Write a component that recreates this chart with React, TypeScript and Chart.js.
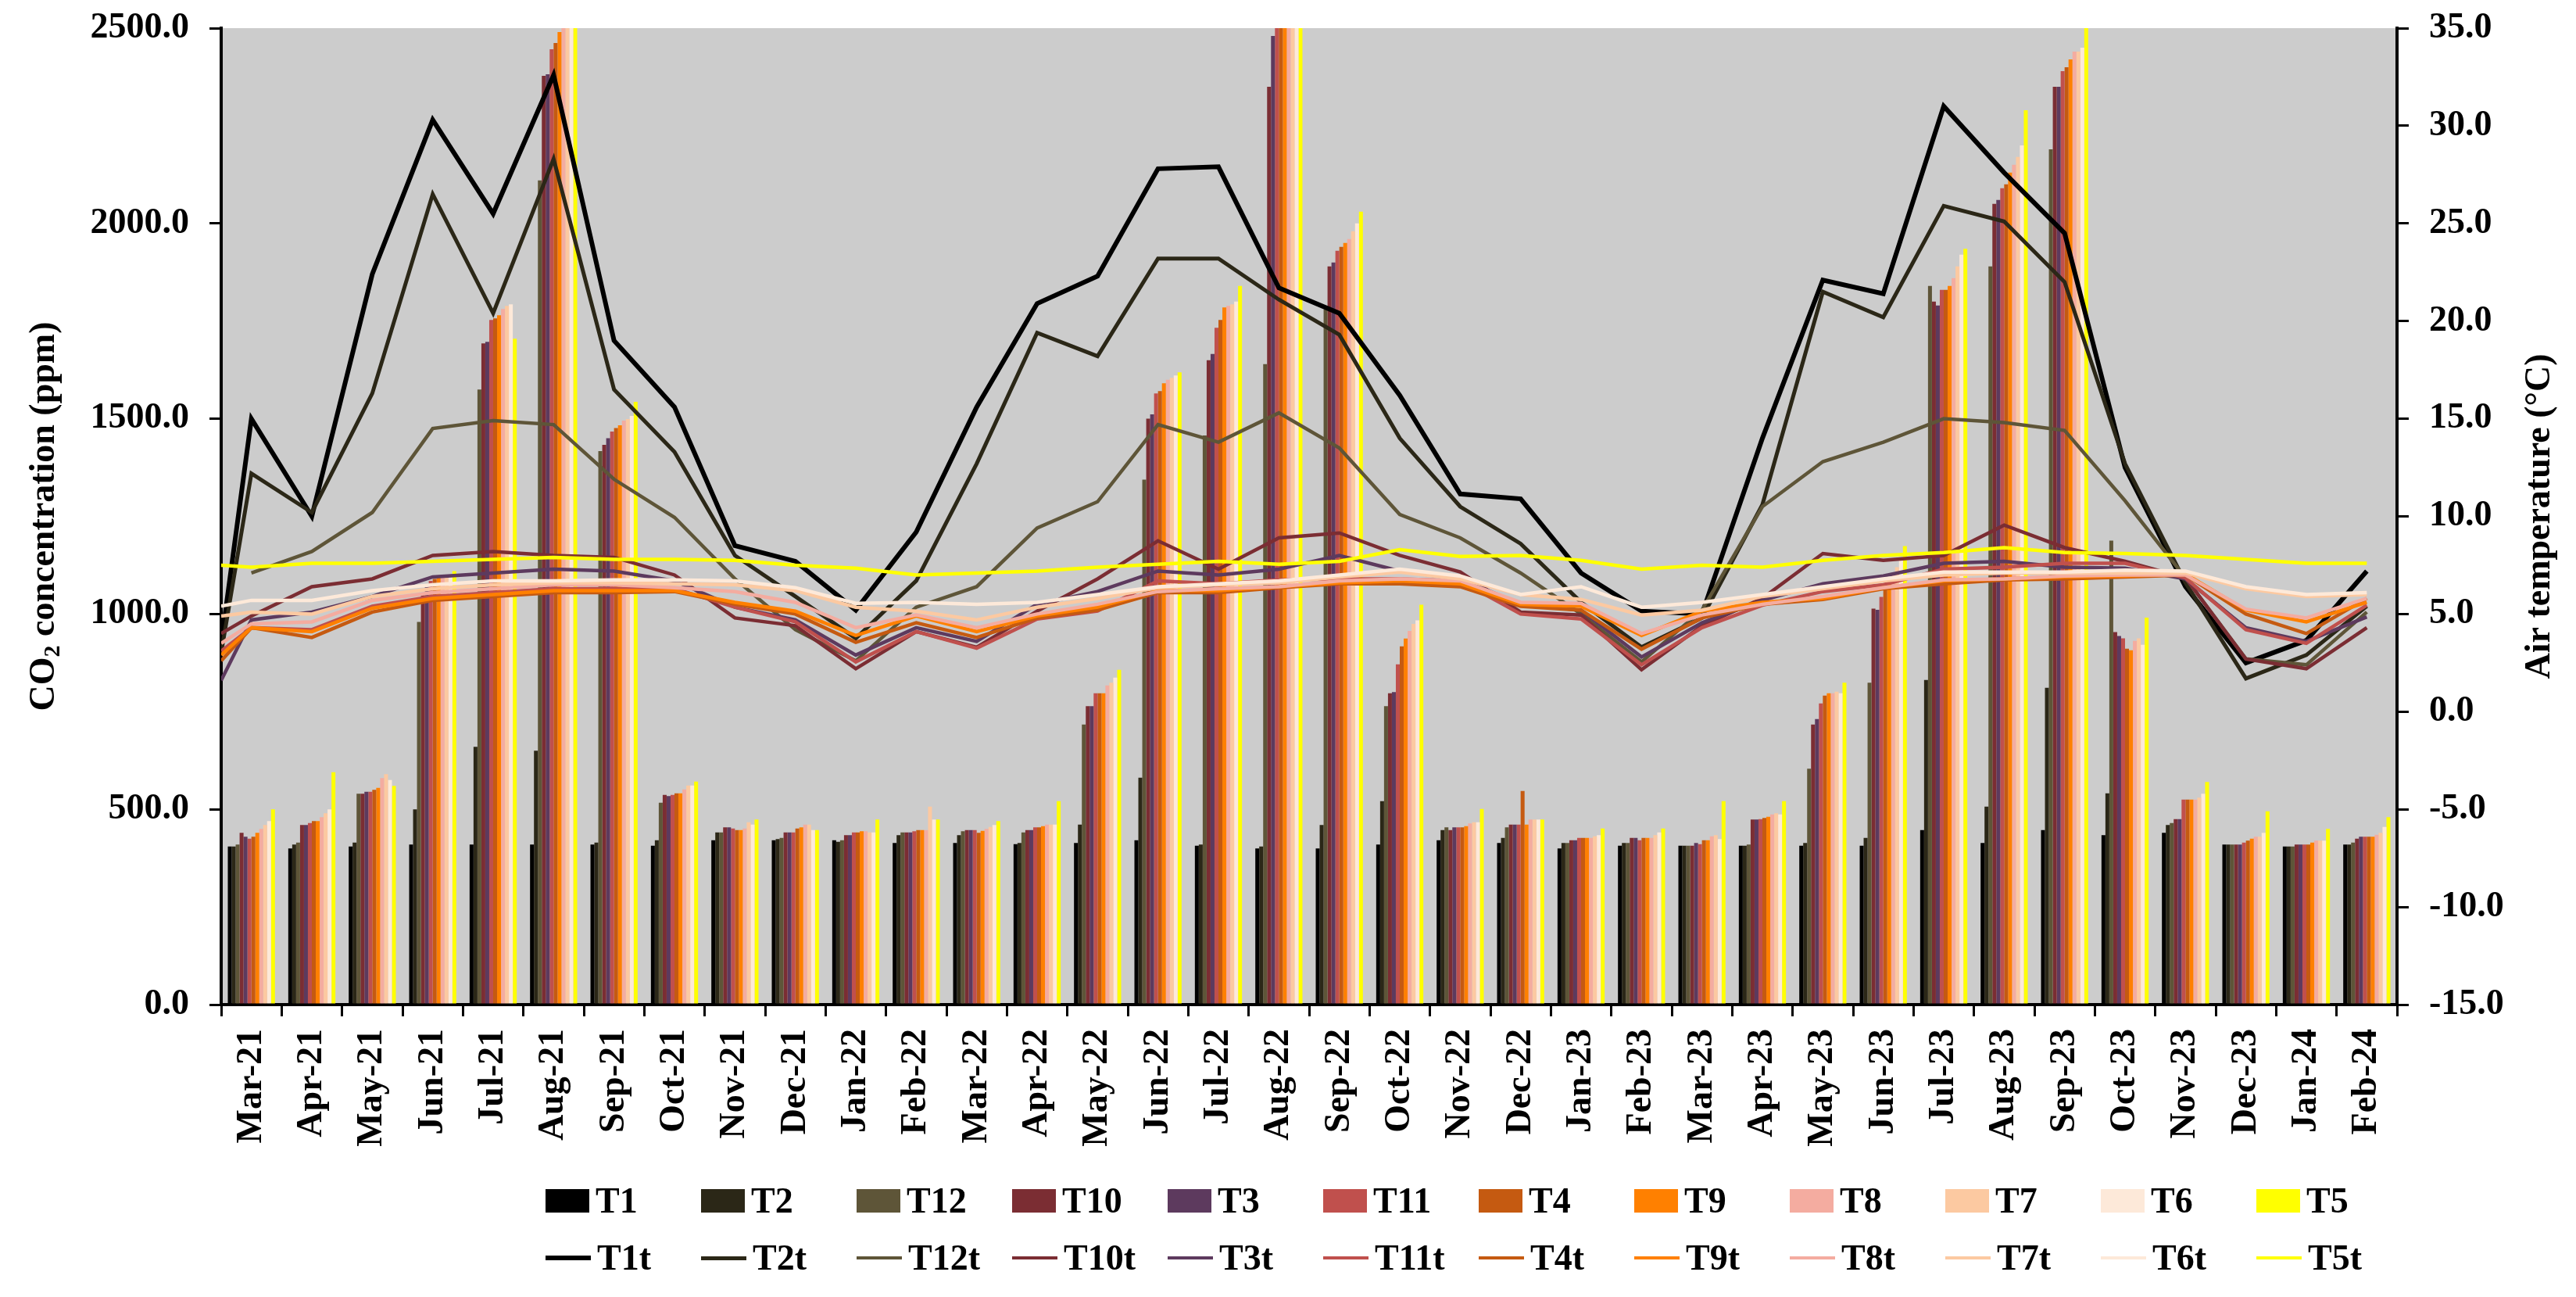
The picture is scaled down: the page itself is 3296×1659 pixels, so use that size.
import React, { useEffect, useRef } from "react";
import { Chart, registerables } from "chart.js";

Chart.register(...registerables);

const FONT = '"Liberation Serif", "Times New Roman", serif';

const months = [
  "Mar-21", "Apr-21", "May-21", "Jun-21", "Jul-21", "Aug-21", "Sep-21", "Oct-21", "Nov-21", "Dec-21",
  "Jan-22", "Feb-22", "Mar-22", "Apr-22", "May-22", "Jun-22", "Jul-22", "Aug-22", "Sep-22", "Oct-22",
  "Nov-22", "Dec-22", "Jan-23", "Feb-23", "Mar-23", "Apr-23", "May-23", "Jun-23", "Jul-23", "Aug-23",
  "Sep-23", "Oct-23", "Nov-23", "Dec-23", "Jan-24", "Feb-24",
];

const barNames = ["T1", "T2", "T12", "T10", "T3", "T11", "T4", "T9", "T8", "T7", "T6", "T5"];
const lineNames = ["T1t", "T2t", "T12t", "T10t", "T3t", "T11t", "T4t", "T9t", "T8t", "T7t", "T6t", "T5t"];
const seriesColors = [
  "#000000", "#2b2717", "#5e5538", "#7b2d33", "#5d3a5e", "#c0504d",
  "#c55a11", "#ff8000", "#f4aca0", "#fcc9a1", "#fde9d9", "#ffff00",
];
const lineWidths = [6, 5, 4.5, 4.5, 4.5, 4.5, 4.5, 4.5, 4.5, 4.5, 4.5, 4.5];

// CO2 concentration (ppm), bars
const T1 = [405, 400, 405, 410, 410, 410, 410, 407, 421, 421, 421, 414, 414, 411, 414, 421, 407, 400, 400, 410, 421, 414, 400, 407, 407, 407, 407, 407, 447, 414, 447, 434, 440, 410, 405, 410];
const T2 = [405, 410, 415, 500, 660, 650, 415, 421, 441, 424, 417, 434, 434, 414, 461, 581, 410, 405, 460, 521, 447, 427, 414, 414, 407, 407, 414, 427, 831, 507, 811, 541, 460, 410, 405, 410];
const T12 = [410, 415, 540, 980, 1575, 2110, 1417, 517, 441, 427, 421, 441, 444, 441, 717, 1344, 1457, 1640, 1780, 764, 454, 454, 414, 414, 407, 410, 604, 824, 1840, 1890, 2190, 1188, 465, 410, 405, 415];
const T10 = [440, 460, 540, 1050, 1693, 2378, 1433, 537, 454, 441, 434, 441, 447, 447, 764, 1500, 1650, 2350, 1890, 797, 447, 461, 421, 427, 407, 474, 717, 1014, 1800, 2050, 2350, 954, 475, 410, 410, 425];
const T3 = [430, 460, 545, 1075, 1697, 2382, 1450, 534, 454, 441, 434, 441, 447, 447, 764, 1511, 1666, 2480, 1900, 800, 454, 461, 421, 427, 414, 474, 731, 1011, 1790, 2060, 2350, 944, 475, 410, 410, 430];
const T11 = [425, 465, 545, 1085, 1753, 2446, 1467, 537, 451, 441, 441, 444, 447, 454, 797, 1565, 1733, 2520, 1930, 871, 454, 461, 427, 421, 411, 475, 771, 1044, 1830, 2090, 2390, 938, 525, 415, 410, 430];
const T4 = [430, 470, 550, 1090, 1757, 2462, 1476, 541, 447, 451, 441, 447, 440, 454, 797, 1571, 1753, 2530, 1940, 917, 454, 547, 427, 427, 421, 478, 791, 1070, 1830, 2100, 2400, 911, 525, 420, 410, 430];
const T9 = [440, 470, 555, 1095, 1765, 2490, 1483, 541, 447, 454, 444, 447, 445, 457, 797, 1591, 1785, 2540, 1950, 937, 457, 461, 427, 427, 421, 481, 797, 1085, 1840, 2130, 2420, 907, 525, 425, 415, 430];
const T8 = [450, 480, 580, 1100, 1781, 2520, 1495, 551, 451, 461, 444, 447, 450, 461, 817, 1600, 1789, 2550, 1960, 957, 464, 474, 427, 427, 431, 487, 797, 1100, 1860, 2150, 2440, 931, 525, 430, 420, 435];
const T7 = [460, 490, 590, 1100, 1789, 2540, 1499, 561, 467, 461, 441, 507, 455, 461, 824, 1605, 1793, 2560, 1980, 975, 467, 474, 431, 434, 434, 490, 801, 1120, 1890, 2170, 2440, 938, 530, 430, 420, 440];
const T6 = [470, 500, 575, 1100, 1793, 2550, 1507, 561, 461, 447, 441, 474, 460, 461, 837, 1611, 1800, 2570, 2000, 984, 467, 474, 434, 441, 424, 487, 797, 1140, 1920, 2200, 2450, 921, 540, 440, 420, 455];
const T5 = [500, 595, 560, 1110, 1705, 2560, 1543, 571, 474, 447, 474, 474, 470, 521, 857, 1619, 1840, 2580, 2030, 1024, 501, 474, 451, 451, 521, 521, 824, 1174, 1935, 2290, 2510, 991, 570, 495, 450, 480];
const barSeries = [T1, T2, T12, T10, T3, T11, T4, T9, T8, T7, T6, T5];

// Air temperature (°C), lines
const T1t = [15.0, 10.0, 22.4, 30.3, 25.5, 32.6, 19.0, 15.6, 8.5, 7.7, 5.2, 9.2, 15.6, 20.9, 22.3, 27.8, 27.9, 21.7, 20.4, 16.2, 11.15, 10.9, 7.1, 5.15, 5.0, 14.0, 22.1, 21.4, 31.0, 27.6, 24.5, 12.5, 6.4, 2.5, 3.65, 7.2];
const T2t = [12.2, 10.2, 16.3, 26.5, 20.4, 28.3, 16.5, 13.3, 8.0, 5.9, 3.75, 6.7, 12.7, 19.4, 18.2, 23.2, 23.2, 21.1, 19.3, 14.0, 10.5, 8.6, 5.6, 3.3, 4.8, 10.6, 21.5, 20.2, 25.9, 25.1, 22.0, 12.7, 6.6, 1.7, 2.9, 5.4];
const T12t = [7.1, 8.2, 10.2, 14.5, 14.9, 14.7, 11.9, 9.95, 6.8, 4.2, 2.6, 5.35, 6.4, 9.4, 10.75, 14.7, 13.8, 15.3, 13.5, 10.1, 8.9, 7.1, 5.0, 2.55, 5.2, 10.5, 12.8, 13.8, 15.0, 14.8, 14.4, 10.8, 6.85, 2.7, 2.4, 5.1];
const T10t = [4.9, 6.4, 6.8, 8.0, 8.2, 8.0, 7.9, 7.0, 4.8, 4.4, 2.2, 4.1, 3.3, 5.15, 6.8, 8.75, 7.3, 8.9, 9.15, 8.0, 7.15, 5.1, 4.95, 2.15, 4.4, 5.8, 8.1, 7.75, 8.0, 9.55, 8.4, 7.7, 6.85, 2.7, 2.2, 4.3];
const T3t = [4.7, 5.1, 5.9, 6.9, 7.1, 7.3, 7.2, 6.7, 5.35, 4.7, 2.9, 4.3, 3.6, 5.5, 6.15, 7.2, 7.0, 7.3, 8.0, 7.2, 6.8, 5.5, 5.2, 2.8, 4.55, 5.7, 6.55, 6.95, 7.6, 7.7, 7.4, 7.35, 6.8, 4.3, 3.6, 4.85];
const T11t = [4.3, 4.2, 5.4, 5.9, 6.1, 6.3, 6.3, 6.3, 5.35, 4.6, 2.55, 4.1, 3.25, 4.75, 5.15, 6.7, 6.55, 6.75, 6.8, 6.8, 6.7, 5.0, 4.75, 2.4, 4.3, 5.45, 6.15, 6.5, 7.3, 7.4, 7.6, 7.6, 6.85, 4.2, 3.5, 5.45];
const T4t = [4.3, 3.8, 5.1, 5.7, 5.9, 6.1, 6.1, 6.15, 5.5, 5.0, 3.55, 4.55, 3.8, 4.8, 5.2, 6.1, 6.1, 6.35, 6.55, 6.55, 6.4, 5.4, 5.2, 3.2, 4.8, 5.5, 5.75, 6.3, 6.55, 6.75, 6.8, 6.9, 7.0, 5.0, 4.0, 5.8];
const T9t = [4.3, 4.1, 5.3, 5.8, 6.0, 6.2, 6.2, 6.2, 5.6, 5.15, 3.9, 4.9, 4.1, 4.9, 5.35, 6.2, 6.2, 6.4, 6.6, 6.7, 6.55, 5.5, 5.4, 3.9, 5.15, 5.6, 5.8, 6.35, 6.7, 6.8, 6.9, 6.95, 7.05, 5.2, 4.6, 5.6];
const T8t = [4.5, 4.6, 5.7, 6.1, 6.3, 6.5, 6.5, 6.35, 6.15, 5.6, 4.3, 4.95, 4.3, 5.0, 5.5, 6.15, 6.3, 6.4, 6.7, 6.8, 6.7, 5.6, 5.55, 4.0, 4.95, 5.5, 5.9, 6.35, 6.75, 6.8, 6.95, 7.0, 7.0, 5.25, 4.8, 5.8];
const T7t = [5.1, 5.0, 5.9, 6.3, 6.5, 6.6, 6.6, 6.55, 6.5, 6.2, 5.35, 5.15, 4.7, 5.35, 5.8, 6.35, 6.5, 6.6, 6.9, 7.15, 6.8, 6.0, 5.75, 4.95, 5.2, 5.9, 6.3, 6.7, 7.0, 7.1, 7.1, 7.1, 7.1, 6.3, 5.9, 6.0];
const T6t = [5.7, 5.7, 6.2, 6.5, 6.7, 6.7, 6.75, 6.75, 6.7, 6.35, 5.55, 5.6, 5.5, 5.6, 6.0, 6.4, 6.55, 6.7, 7.0, 7.3, 6.95, 6.0, 6.4, 5.35, 5.6, 6.0, 6.4, 6.8, 7.15, 7.15, 7.15, 7.25, 7.2, 6.4, 6.0, 6.1];
const T5t = [7.4, 7.6, 7.6, 7.7, 7.8, 7.9, 7.8, 7.8, 7.75, 7.5, 7.35, 7.0, 7.1, 7.2, 7.4, 7.55, 7.7, 7.55, 7.7, 8.3, 7.95, 8.0, 7.75, 7.3, 7.5, 7.4, 7.75, 8.0, 8.15, 8.4, 8.15, 8.1, 8.0, 7.8, 7.6, 7.6];
const lineSeries = [T1t, T2t, T12t, T10t, T3t, T11t, T4t, T9t, T8t, T7t, T6t, T5t];
// value where each temperature line begins at the left edge of the plot (null = starts at Mar-21)
const lineStart = [3.5, 3.0, null, 4.0, 1.6, 3.1, 2.6, 2.9, 3.5, 4.9, 5.4, 7.5];

const W = 3296;
const H = 1659;
// target plot-area frame
const PLOT_TOP = 36;
const LEFT_AXIS_W = 283;
const RIGHT_AXIS_W = 229;
const X_AXIS_H = 195;
const PAD_BOTTOM = 179;

const LEGEND_X0 = 698;
const LEGEND_STEP = 199;
const LEGEND_ROW1 = 1536;
const LEGEND_ROW2 = 1609;

const bgPlugin = {
  id: "bgPlugin",
  beforeDraw(chart: any) {
    const { ctx, chartArea: a, width, height } = chart;
    ctx.save();
    ctx.fillStyle = "#ffffff";
    ctx.fillRect(0, 0, width, height);
    ctx.fillStyle = "#cccccc";
    ctx.fillRect(a.left, a.top, a.right - a.left, a.bottom - a.top);
    ctx.restore();
  },
};

const titlePlugin = {
  id: "titlePlugin",
  afterDraw(chart: any) {
    const { ctx, chartArea: a, width } = chart;
    const cy = (a.top + a.bottom) / 2;
    const big = `bold 46px ${FONT}`;
    const small = `bold 30px ${FONT}`;
    ctx.save();
    ctx.fillStyle = "#000";
    ctx.textBaseline = "middle";
    ctx.textAlign = "left";
    ctx.translate(57, cy);
    ctx.rotate(-Math.PI / 2);
    ctx.font = big;
    const w1 = ctx.measureText("CO").width;
    ctx.font = small;
    const w2 = ctx.measureText("2").width;
    ctx.font = big;
    const w3 = ctx.measureText(" concentration (ppm)").width;
    let x = -(w1 + w2 + w3) / 2;
    ctx.font = big;
    ctx.fillText("CO", x, 0);
    x += w1;
    ctx.font = small;
    ctx.fillText("2", x, 11);
    x += w2;
    ctx.font = big;
    ctx.fillText(" concentration (ppm)", x, 0);
    ctx.restore();

    ctx.save();
    ctx.fillStyle = "#000";
    ctx.textBaseline = "middle";
    ctx.textAlign = "center";
    ctx.font = big;
    ctx.translate(width - 46, cy);
    ctx.rotate(-Math.PI / 2);
    ctx.fillText("Air temperature (°C)", 0, 0);
    ctx.restore();
  },
};

const tickFont = { family: FONT, size: 46, weight: "bold" as const };
const axisGrid = { display: true, drawOnChartArea: false, drawTicks: true, tickLength: 15, color: "#000", lineWidth: 3 };
const axisBorder = { display: true, color: "#000", width: 4 };
const fmt1 = (v: any) => Number(v).toFixed(1);
const fitVertical = (w: number) => (s: any) => {
  s.width = w;
  s.paddingTop = 0;
  s.paddingBottom = 0;
};

export default function App() {
  const barRef = useRef<HTMLCanvasElement | null>(null);
  const lineRef = useRef<HTMLCanvasElement | null>(null);

  useEffect(() => {
    document.body.style.margin = "0";
    document.body.style.overflow = "hidden";
    if (!barRef.current || !lineRef.current) return;

    const barChart = new Chart(barRef.current, {
      type: "bar",
      data: {
        labels: months,
        datasets: barSeries.map((vals, k) => ({
          label: barNames[k],
          data: vals,
          backgroundColor: seriesColors[k],
          borderWidth: 0,
          categoryPercentage: 0.78,
          barPercentage: 1.0,
          xAxisID: "x",
          yAxisID: "y",
        })),
      },
      options: {
        animation: false,
        responsive: false,
        devicePixelRatio: 1,
        layout: { padding: { top: PLOT_TOP, bottom: PAD_BOTTOM, left: 0, right: 0 } },
        plugins: { legend: { display: false }, tooltip: { enabled: false } },
        scales: {
          x: {
            type: "category",
            offset: true,
            grid: { ...axisGrid, offset: true },
            border: axisBorder,
            ticks: { autoSkip: false, minRotation: 90, maxRotation: 90, padding: 16, color: "#000", font: tickFont },
            afterFit: (s: any) => {
              s.height = X_AXIS_H;
              s.paddingLeft = 0;
              s.paddingRight = 0;
            },
          },
          y: {
            type: "linear",
            position: "left",
            min: 0,
            max: 2500,
            ticks: { stepSize: 500, padding: 26, color: "#000", font: tickFont, callback: fmt1 },
            grid: axisGrid,
            border: axisBorder,
            afterFit: fitVertical(LEFT_AXIS_W),
          },
          y1: {
            type: "linear",
            position: "right",
            min: -15,
            max: 35,
            ticks: { stepSize: 5, padding: 26, color: "#000", font: tickFont, callback: fmt1 },
            grid: axisGrid,
            border: axisBorder,
            afterFit: fitVertical(RIGHT_AXIS_W),
          },
        },
      } as any,
      plugins: [bgPlugin, titlePlugin],
    });

    const ca = barChart.chartArea;

    const lineChart = new Chart(lineRef.current, {
      type: "line",
      data: {
        datasets: lineSeries.map((vals, k) => {
          const pts: { x: number; y: number }[] = [];
          const s = lineStart[k];
          if (s !== null) pts.push({ x: -0.5, y: s });
          vals.forEach((v, i) => pts.push({ x: i, y: v }));
          return {
            label: lineNames[k],
            data: pts,
            borderColor: seriesColors[k],
            backgroundColor: seriesColors[k],
            borderWidth: lineWidths[k],
            pointRadius: 0,
            fill: false,
            tension: 0,
            order: 12 - k,
          };
        }),
      },
      options: {
        animation: false,
        responsive: false,
        devicePixelRatio: 1,
        layout: {
          padding: {
            top: ca.top,
            left: ca.left,
            right: W - ca.right,
            bottom: H - ca.bottom,
          },
        },
        plugins: { legend: { display: false }, tooltip: { enabled: false } },
        scales: {
          x: { type: "linear", display: false, offset: false, min: -0.5, max: 35.5 },
          y: { type: "linear", display: false, min: -15, max: 35 },
        },
      } as any,
    });

    return () => {
      barChart.destroy();
      lineChart.destroy();
    };
  }, []);

  const legendText: React.CSSProperties = {
    fontFamily: FONT,
    fontWeight: "bold",
    fontSize: 46,
    color: "#000",
    lineHeight: "46px",
    whiteSpace: "nowrap",
  };

  return (
    <div style={{ position: "relative", width: W, height: H, overflow: "hidden", background: "#fff" }}>
      <canvas ref={barRef} width={W} height={H} style={{ position: "absolute", left: 0, top: 0, width: W, height: H }} />
      <canvas ref={lineRef} width={W} height={H} style={{ position: "absolute", left: 0, top: 0, width: W, height: H }} />
      {barNames.map((name, k) => (
        <div
          key={name}
          style={{
            position: "absolute",
            left: LEGEND_X0 + k * LEGEND_STEP,
            top: LEGEND_ROW1 - 25,
            height: 50,
            display: "flex",
            alignItems: "center",
          }}
        >
          <span style={{ display: "inline-block", width: 56, height: 30, background: seriesColors[k], marginRight: 8 }} />
          <span style={legendText}>{name}</span>
        </div>
      ))}
      {lineNames.map((name, k) => (
        <div
          key={name}
          style={{
            position: "absolute",
            left: LEGEND_X0 + k * LEGEND_STEP,
            top: LEGEND_ROW2 - 25,
            height: 50,
            display: "flex",
            alignItems: "center",
          }}
        >
          <span style={{ display: "inline-block", width: 58, height: lineWidths[k], background: seriesColors[k], marginRight: 8 }} />
          <span style={legendText}>{name}</span>
        </div>
      ))}
    </div>
  );
}
